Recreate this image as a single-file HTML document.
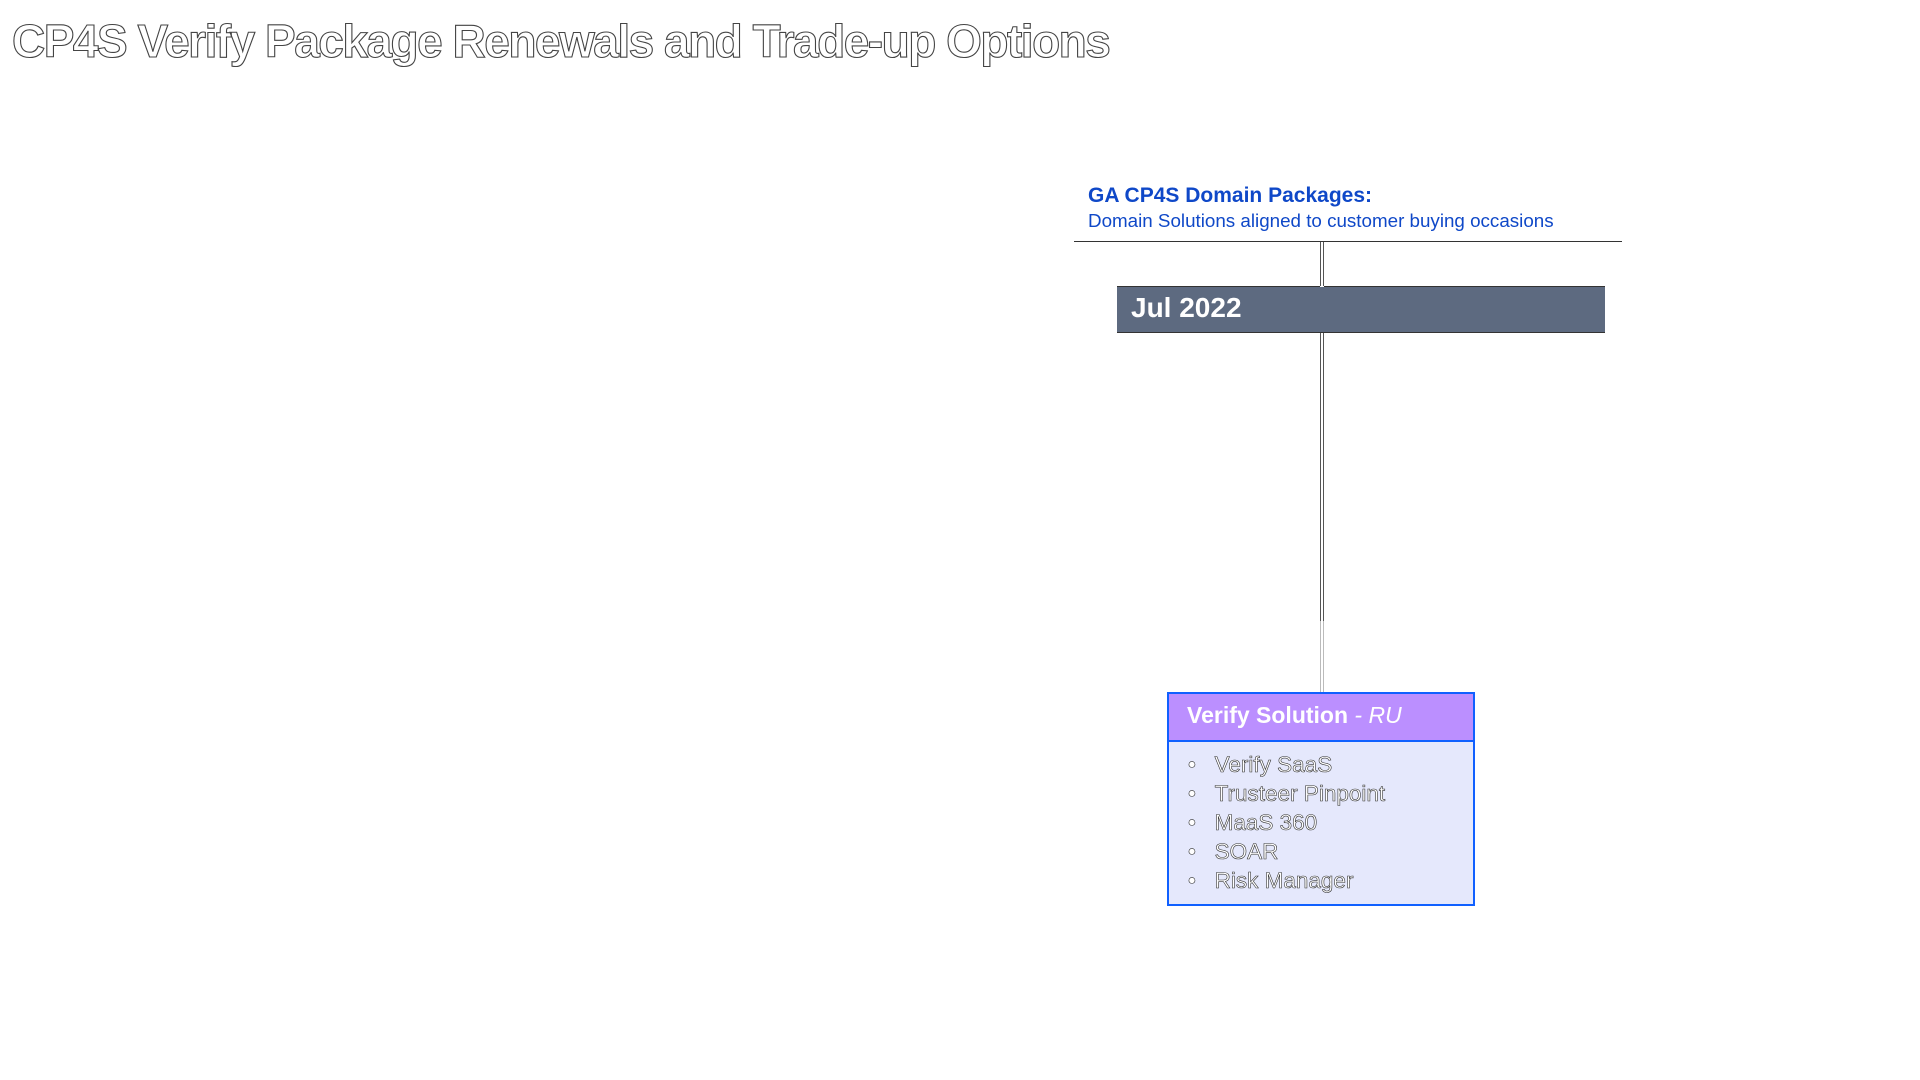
<!DOCTYPE html>
<html><head><meta charset="utf-8"><style>
body{margin:0;width:1920px;height:1080px;background:#fff;position:relative;overflow:hidden;font-family:"Liberation Sans",sans-serif}
.a{position:absolute;white-space:nowrap}
.out{color:#fff;-webkit-text-stroke:1px #333}
</style></head><body>
<div class="a out" style="left:12px;top:14px;font-size:46px;font-weight:bold;letter-spacing:-1.5px;-webkit-text-stroke:1.1px #444">CP4S Verify Package Renewals and Trade-up Options</div>
<div class="a" style="left:1088px;top:184px;font-size:21px;font-weight:bold;color:#0f48c8">GA CP4S Domain Packages:</div>
<div class="a" style="left:1088px;top:210px;font-size:18.8px;color:#0f48c8">Domain Solutions aligned to customer buying occasions</div>
<div class="a" style="left:1074px;top:241px;width:548px;height:1px;background:#333"></div>
<div class="a" style="left:1320px;top:242px;width:1px;height:379px;background:#555"></div>
<div class="a" style="left:1323px;top:242px;width:1px;height:379px;background:#555"></div>
<div class="a" style="left:1320px;top:621px;width:4px;height:72px;border-left:1px solid #bbb;border-right:1px solid #bbb;box-sizing:border-box"></div>
<div class="a" style="left:1117px;top:286px;width:488px;height:47px;background:#5d6a80;border-top:1px solid #333;border-bottom:1px solid #333;box-sizing:border-box"></div>
<div class="a" style="left:1320px;top:286px;width:4px;height:1px;background:#fff"></div>
<div class="a" style="left:1131px;top:292px;font-size:28px;font-weight:bold;color:#fff">Jul 2022</div>
<div class="a" style="left:1167px;top:692px;width:308px;height:214px;border:2px solid #1060ff;background:#e5e8fc;box-sizing:border-box">
 <div style="height:46px;background:#bb8fff;border-bottom:2px solid #1060ff"></div>
</div>
<div class="a" style="left:1187px;top:702px;font-size:23px;font-weight:bold;color:#fff">Verify Solution <span style="font-weight:normal;font-style:italic">- RU</span></div>
<div class="a out" style="left:1188px;top:750px;font-size:22.5px;line-height:29px;-webkit-text-stroke:0.6px #333">
•&nbsp;&nbsp;&nbsp;Verify SaaS<br>•&nbsp;&nbsp;&nbsp;Trusteer Pinpoint<br>•&nbsp;&nbsp;&nbsp;MaaS 360<br>•&nbsp;&nbsp;&nbsp;SOAR<br>•&nbsp;&nbsp;&nbsp;Risk Manager</div>
</body></html>
